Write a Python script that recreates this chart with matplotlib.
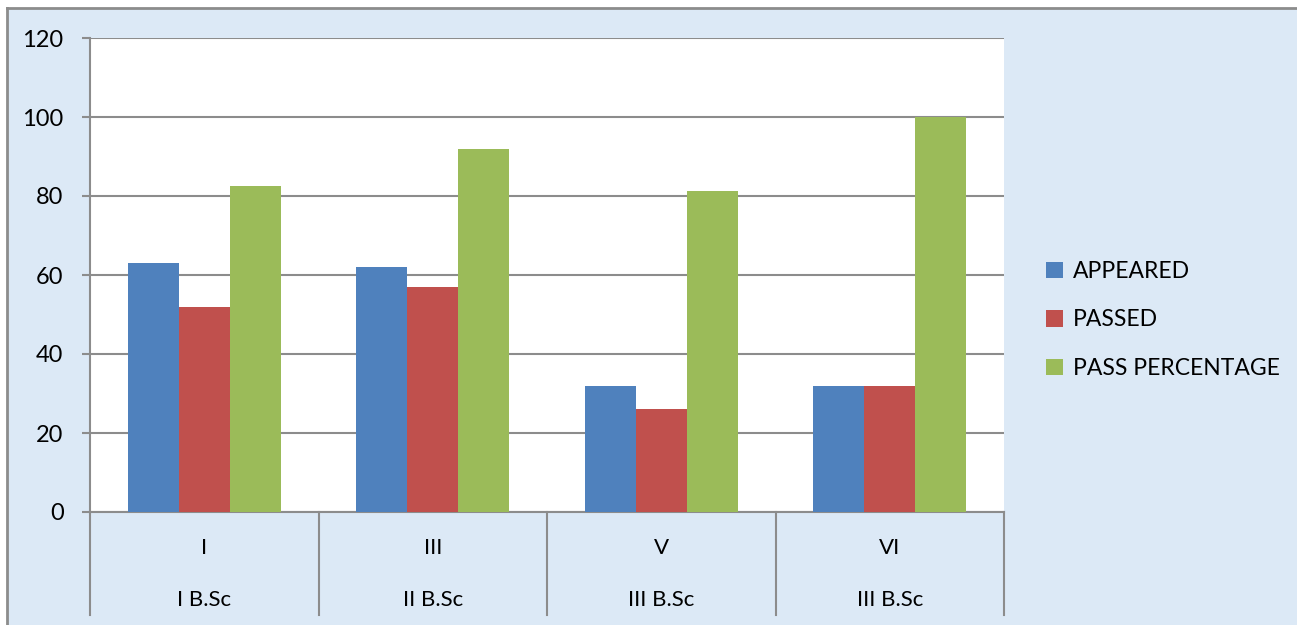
import matplotlib
matplotlib.use('Agg')
import numpy as np
import matplotlib.pyplot as plt
from matplotlib.patches import Rectangle, Patch

# chart data
semesters = ['I', 'III', 'V', 'VI']
classes = ['I B.Sc', 'II B.Sc', 'III B.Sc', 'III B.Sc']
appeared = [63, 62, 32, 32]
passed = [52, 57, 26, 32]
pass_pct = [82.54, 91.94, 81.25, 100]
series_names = ['APPEARED', 'PASSED', 'PASS PERCENTAGE']
colours = ['#4F81BD', '#C0504D', '#9BBB59']
yticks = [0, 20, 40, 60, 80, 100, 120]

plt.rcParams['font.family'] = ['Lato', 'DejaVu Sans']
W, H = 1297, 625
fig = plt.figure(figsize=(W / 100, H / 100), dpi=100)
fig.patch.set_facecolor('white')

# light blue chart background with a grey border on top / left
bg = Rectangle((7 / W, 0), 1, 1 - 8 / H, transform=fig.transFigure,
               facecolor='#dce9f6', edgecolor='none', zorder=-10)
fig.add_artist(bg)
fig.add_artist(plt.Line2D([7 / W, 1], [1 - 8 / H, 1 - 8 / H], transform=fig.transFigure,
                          color='#8c8c8c', lw=2, zorder=-9))
fig.add_artist(plt.Line2D([7 / W, 7 / W], [0, 1 - 8 / H], transform=fig.transFigure,
                          color='#8c8c8c', lw=2, zorder=-9))

left, right, top, bottom = 90, 1004, 38, 512
ax = fig.add_axes([left / W, 1 - bottom / H, (right - left) / W, (bottom - top) / H])
ax.set_facecolor('white')

x = np.arange(len(semesters))
bw = 0.223
for i, (vals, c, name) in enumerate(zip([appeared, passed, pass_pct], colours, series_names)):
    ax.bar(x + (i - 1) * bw, vals, width=bw, color=c, label=name, zorder=3)

ax.set_xlim(-0.5, len(semesters) - 0.5)
ax.set_ylim(0, 120)
ax.set_yticks(yticks)
ax.set_yticklabels([str(t) for t in yticks], fontsize=17, color='black')
ax.tick_params(axis='y', length=6, width=1.5, color='#8c8c8c', pad=13)
ax.set_xticks([])
ax.yaxis.grid(True, color='#8c8c8c', lw=1.5, zorder=1)
ax.set_axisbelow(True)
for s in ['top', 'right']:
    ax.spines[s].set_visible(False)
for s in ['left', 'bottom']:
    ax.spines[s].set_color('#8c8c8c')
    ax.spines[s].set_linewidth(1.5)

# two level category axis
tr = ax.get_xaxis_transform()
drop = (615 - bottom) / (bottom - top)
for b in np.arange(-0.5, len(semesters), 1.0):
    ax.plot([b, b], [0, -drop], transform=tr, color='#8c8c8c', lw=1.5, clip_on=False)
for xi, sem, cls in zip(x, semesters, classes):
    ax.text(xi, -(548 - bottom) / (bottom - top), sem, transform=tr, ha='center',
            va='center', fontsize=16)
    ax.text(xi, -(600 - bottom) / (bottom - top), cls, transform=tr, ha='center',
            va='center', fontsize=16)

handles = [Patch(facecolor=c, edgecolor='none') for c in colours]
fig.legend(handles, series_names, loc='center left', bbox_to_anchor=(1025 / W, 1 - 320 / H),
           frameon=False, fontsize=16.5, handlelength=0.75, handleheight=0.75,
           handletextpad=0.45, labelspacing=1.2)

fig.savefig('out.png', dpi=100)
